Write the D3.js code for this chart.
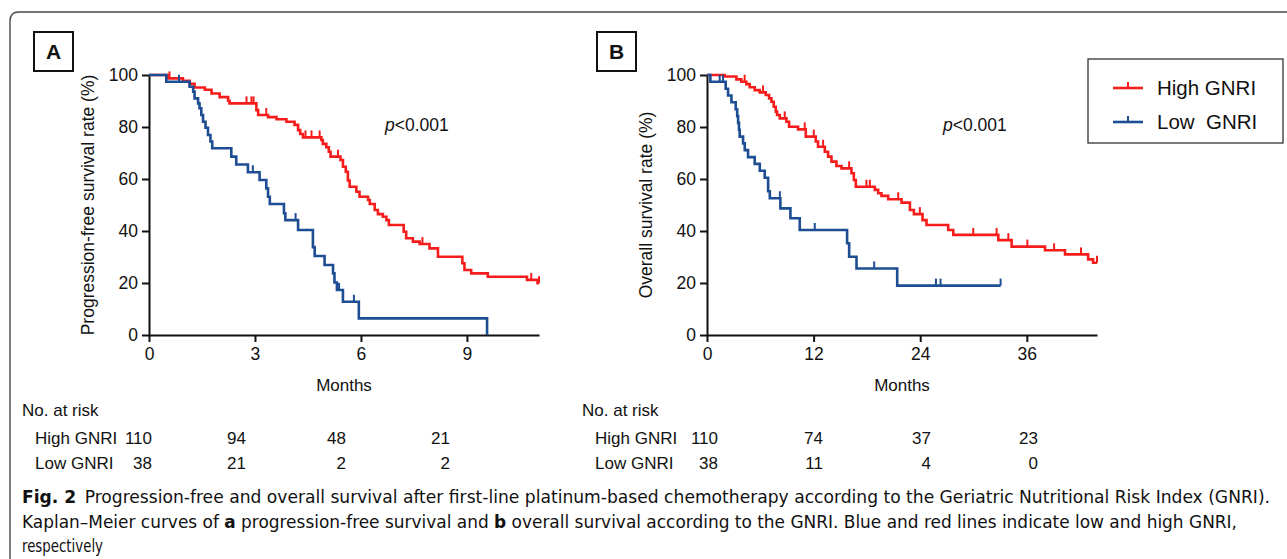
<!DOCTYPE html>
<html>
<head>
<meta charset="UTF-8" />
<title>Fig. 2 GNRI survival</title>
<script src="https://d3js.org/d3.v7.min.js"></script>
<style>
  body { margin: 0; background: #fff; }
  svg text { font-family: "Liberation Sans", Arial, sans-serif; fill: #111; }
  .caption text { font-family: "Liberation Sans Narrow", "DejaVu Sans Condensed", "Liberation Sans", sans-serif; }
</style>
</head>
<body>
<div id="chart"></div>
<script>
  // ---- data ----
  // panel A: progression-free survival, months / %
  const pfsHighTime = [0, 0.54, 0.96, 1.15, 1.29, 1.58, 1.77, 2.0, 2.24, 2.28, 3.04, 3.09, 3.37, 3.61, 3.89, 4.12, 4.22, 4.28, 4.36, 4.88, 4.92, 5.02, 5.09, 5.14, 5.42, 5.49, 5.57, 5.63, 5.68, 5.87, 5.96, 6.2, 6.25, 6.39, 6.48, 6.62, 6.72, 6.79, 7.21, 7.28, 7.47, 7.66, 7.94, 8.18, 8.87, 8.93, 9.12, 9.59, 10.7, 11.0];
  const pfsHighSurv = [100, 98.7, 97.8, 96.6, 95.2, 94.3, 92.9, 91.5, 90.1, 89.1, 86.5, 84.6, 83.8, 83.0, 82.0, 80.8, 78.8, 77.3, 76.0, 75.0, 73.5, 72.2, 70.5, 68.6, 67.3, 64.7, 62.8, 59.4, 57.0, 55.1, 53.2, 51.9, 50.4, 48.1, 46.5, 45.5, 44.2, 42.3, 39.7, 37.2, 35.9, 35.0, 33.3, 30.1, 27.6, 25.0, 23.7, 22.4, 21.2, 19.9];
  const pfsHighCensor = [0.58, 2.76, 2.9, 2.96, 3.32, 4.43, 4.6, 4.83, 5.35, 7.74, 10.82, 11.04];
  const pfsHighEnd = 11.04;

  const pfsLowTime = [0, 0.49, 1.15, 1.25, 1.29, 1.39, 1.43, 1.48, 1.53, 1.6, 1.67, 1.74, 1.79, 2.33, 2.47, 2.8, 3.13, 3.32, 3.37, 3.42, 3.82, 3.86, 4.22, 4.64, 4.69, 4.97, 5.21, 5.25, 5.32, 5.49, 5.94, 9.57];
  const pfsLowSurv = [100, 97.4, 95.5, 93.6, 91.0, 89.1, 87.2, 84.6, 82.0, 79.7, 76.9, 74.4, 71.8, 68.6, 65.6, 62.6, 59.6, 56.4, 53.2, 50.4, 46.8, 44.2, 40.4, 33.8, 30.4, 26.9, 23.7, 20.2, 17.3, 12.8, 6.4, 0];
  const pfsLowCensor = [0.85, 2.94, 4.15, 5.38, 5.8];
  const pfsLowEnd = 9.57;

  // panel B: overall survival, months / %
  const osHighTime = [0, 2.0, 3.31, 3.87, 4.43, 4.81, 5.37, 5.93, 6.61, 6.99, 7.25, 7.51, 7.74, 7.89, 8.19, 8.94, 9.24, 10.25, 11.12, 12.24, 12.5, 13.26, 13.63, 14.01, 14.57, 15.14, 16.26, 16.53, 16.75, 18.89, 19.27, 19.64, 20.39, 21.9, 22.84, 23.29, 24.26, 24.71, 27.15, 27.72, 32.79, 34.29, 38.05, 40.3, 42.9, 43.46];
  const osHighSurv = [100, 99.4, 98.3, 97.4, 96.5, 95.3, 94.2, 93.3, 92.3, 91.0, 89.7, 87.8, 85.9, 84.6, 83.3, 82.0, 80.1, 79.1, 76.3, 74.4, 72.4, 70.5, 68.6, 66.7, 65.0, 64.1, 62.2, 59.6, 57.0, 55.8, 54.5, 53.5, 52.2, 50.9, 48.1, 46.5, 44.2, 42.3, 40.4, 38.5, 36.5, 34.0, 32.6, 31.0, 29.1, 27.8];
  const osHighCensor = [4.24, 6.31, 8.75, 11.0, 12.02, 13.07, 16.0, 17.95, 18.33, 21.52, 23.96, 29.97, 32.6, 33.92, 36.06, 39.07, 42.1, 43.9];
  const osHighEnd = 43.9;

  const osLowTime = [0, 0.38, 2.1, 2.37, 2.75, 3.23, 3.4, 3.5, 3.6, 3.68, 4.06, 4.25, 4.62, 5.37, 5.94, 6.5, 6.88, 7.07, 8.26, 9.39, 10.44, 15.77, 16.0, 16.83, 21.41];
  const osLowSurv = [100, 97.4, 94.7, 92.1, 89.5, 86.8, 84.2, 81.6, 78.9, 76.3, 73.7, 71.1, 68.4, 65.8, 63.2, 60.5, 55.3, 52.6, 48.7, 44.9, 40.4, 35.3, 30.1, 25.6, 19.0];
  const osLowCensor = [1.43, 1.8, 8.2, 12.13, 18.82, 25.77, 26.29, 33.05];
  const osLowEnd = 33.05;

  // axes
  const yTicks = [0, 20, 40, 60, 80, 100];
  const xTicksA = [0, 3, 6, 9];
  const xTicksB = [0, 12, 24, 36];

  // numbers at risk
  const groups = ["High GNRI", "Low GNRI"];
  const riskHighA = [110, 94, 48, 21];
  const riskLowA = [38, 21, 2, 2];
  const riskHighB = [110, 74, 37, 23];
  const riskLowB = [38, 11, 4, 0];

  const red = "#f71c1c";
  const blue = "#1d4d93";

  const svg = d3.select("#chart").append("svg")
    .attr("width", 1287)
    .attr("height", 559);

  // outer frame with rounded top-left corner
  svg.append("path")
    .attr("d", "M10,560 L10,21 Q10,12 19,12 L1290,12")
    .attr("fill", "none")
    .attr("stroke", "#4a4a4a")
    .attr("stroke-width", 1.4);

  function survAt(times, surv, t) {
    let s = surv[0];
    for (let i = 0; i < times.length; i++) {
      if (times[i] <= t) s = surv[i];
    }
    return s;
  }

  function drawCurve(g, x, y, times, surv, cens, end, color) {
    const pts = times.map((t, i) => [t, surv[i]]);
    if (end > times[times.length - 1]) pts.push([end, surv[surv.length - 1]]);
    const line = d3.line()
      .x(d => x(d[0]))
      .y(d => y(d[1]))
      .curve(d3.curveStepAfter);
    g.append("path")
      .attr("d", line(pts))
      .attr("fill", "none")
      .attr("stroke", color)
      .attr("stroke-width", 2.6);
    g.selectAll(null)
      .data(cens)
      .enter()
      .append("line")
      .attr("x1", d => x(d))
      .attr("x2", d => x(d))
      .attr("y1", d => y(survAt(times, surv, d)))
      .attr("y2", d => y(survAt(times, surv, d)) - 7)
      .attr("stroke", color)
      .attr("stroke-width", 2);
  }

  function drawPanel(opts) {
    const g = svg.append("g");
    const x = d3.scaleLinear().domain([0, opts.xMax]).range([opts.x0, opts.x0 + 390]);
    const y = d3.scaleLinear().domain([0, 100]).range([335, 75]);

    // panel letter
    g.append("rect")
      .attr("x", opts.boxX).attr("y", 32)
      .attr("width", 39).attr("height", 39)
      .attr("fill", "none").attr("stroke", "#111").attr("stroke-width", 2);
    g.append("text")
      .attr("x", opts.boxX + 19.5).attr("y", 59)
      .attr("text-anchor", "middle")
      .attr("font-size", 21).attr("font-weight", "bold")
      .text(opts.letter);

    const yAxis = d3.axisLeft(y).tickValues(yTicks).tickSize(7).tickSizeOuter(0).tickPadding(4);
    const xAxis = d3.axisBottom(x).tickValues(opts.xTicks).tickSize(7).tickSizeOuter(0).tickPadding(6);

    const ya = g.append("g").attr("transform", `translate(${opts.x0},0)`).call(yAxis);
    const xa = g.append("g").attr("transform", "translate(0,335)").call(xAxis);
    [ya, xa].forEach(a => {
      a.select(".domain").attr("stroke", "#111").attr("stroke-width", 2);
      a.selectAll(".tick line").attr("stroke", "#111").attr("stroke-width", 2);
      a.selectAll(".tick text").attr("font-size", 17.5).attr("fill", "#111")
        .attr("font-family", "'Liberation Sans', Arial, sans-serif");
    });

    g.append("text")
      .attr("transform", `translate(${opts.x0 - 55},205) rotate(-90)`)
      .attr("text-anchor", "middle")
      .attr("font-size", 17.5)
      .text(opts.yLabel);
    g.append("text")
      .attr("x", opts.x0 + 195).attr("y", 391)
      .attr("text-anchor", "middle")
      .attr("font-size", 17)
      .text("Months");

    const p = g.append("text")
      .attr("x", opts.x0 + 236).attr("y", 131)
      .attr("font-size", 17.5);
    p.append("tspan").attr("font-style", "italic").text("p");
    p.append("tspan").text("<0.001");

    drawCurve(g, x, y, opts.highT, opts.highS, opts.highC, opts.highEnd, red);
    drawCurve(g, x, y, opts.lowT, opts.lowS, opts.lowC, opts.lowEnd, blue);

    // numbers at risk
    g.append("text")
      .attr("x", opts.tableX).attr("y", 416)
      .attr("font-size", 17)
      .text("No. at risk");
    [opts.riskHigh, opts.riskLow].forEach((row, r) => {
      const by = 444 + r * 25;
      g.append("text")
        .attr("x", opts.tableX + 13).attr("y", by)
        .attr("font-size", 17)
        .text(groups[r]);
      g.selectAll(null)
        .data(row)
        .enter()
        .append("text")
        .attr("x", (d, i) => opts.colX[i])
        .attr("y", by)
        .attr("text-anchor", "end")
        .attr("font-size", 17)
        .text(d => d);
    });
  }

  drawPanel({
    letter: "A", boxX: 34, x0: 149, xMax: 11.04, xTicks: xTicksA,
    yLabel: "Progression-free survival rate (%)",
    highT: pfsHighTime, highS: pfsHighSurv, highC: pfsHighCensor, highEnd: pfsHighEnd,
    lowT: pfsLowTime, lowS: pfsLowSurv, lowC: pfsLowCensor, lowEnd: pfsLowEnd,
    tableX: 22, colX: [152, 246, 346, 450],
    riskHigh: riskHighA, riskLow: riskLowA
  });

  drawPanel({
    letter: "B", boxX: 597, x0: 707, xMax: 43.9, xTicks: xTicksB,
    yLabel: "Overall survival rate (%)",
    highT: osHighTime, highS: osHighSurv, highC: osHighCensor, highEnd: osHighEnd,
    lowT: osLowTime, lowS: osLowSurv, lowC: osLowCensor, lowEnd: osLowEnd,
    tableX: 582, colX: [718, 823, 931, 1038],
    riskHigh: riskHighB, riskLow: riskLowB
  });

  // legend
  const legend = svg.append("g");
  legend.append("rect")
    .attr("x", 1088).attr("y", 59)
    .attr("width", 195).attr("height", 84)
    .attr("fill", "#fff").attr("stroke", "#333").attr("stroke-width", 1.3);
  [["High GNRI", red, 88], ["Low  GNRI", blue, 122]].forEach(([label, color, ly]) => {
    legend.append("line")
      .attr("x1", 1113).attr("x2", 1143).attr("y1", ly).attr("y2", ly)
      .attr("stroke", color).attr("stroke-width", 2.6);
    legend.append("line")
      .attr("x1", 1128).attr("x2", 1128).attr("y1", ly).attr("y2", ly - 6)
      .attr("stroke", color).attr("stroke-width", 2);
    legend.append("text")
      .attr("x", 1157).attr("y", ly + 7)
      .attr("font-size", 20.5)
      .attr("xml:space", "preserve")
      .style("white-space", "pre")
      .text(label);
  });

  // caption
  const cap = svg.append("g").attr("class", "caption");
  const l1 = cap.append("text").attr("x", 22).attr("y", 503).attr("font-size", 18)
    .attr("textLength", 1248).attr("lengthAdjust", "spacingAndGlyphs");
  l1.append("tspan").attr("font-weight", "bold").text("Fig. 2");
  l1.append("tspan").text("\u2002Progression-free and overall survival after first-line platinum-based chemotherapy according to the Geriatric Nutritional Risk Index (GNRI).");

  const l2 = cap.append("text").attr("x", 22).attr("y", 528).attr("font-size", 18)
    .attr("textLength", 1215).attr("lengthAdjust", "spacingAndGlyphs");
  l2.append("tspan").text("Kaplan\u2013Meier curves of ");
  l2.append("tspan").attr("font-weight", "bold").text("a");
  l2.append("tspan").text(" progression-free survival and ");
  l2.append("tspan").attr("font-weight", "bold").text("b");
  l2.append("tspan").text(" overall survival according to the GNRI. Blue and red lines indicate low and high GNRI,");

  cap.append("text").attr("x", 22).attr("y", 552).attr("font-size", 18)
    .attr("textLength", 81).attr("lengthAdjust", "spacingAndGlyphs")
    .text("respectively");
</script>
</body>
</html>
